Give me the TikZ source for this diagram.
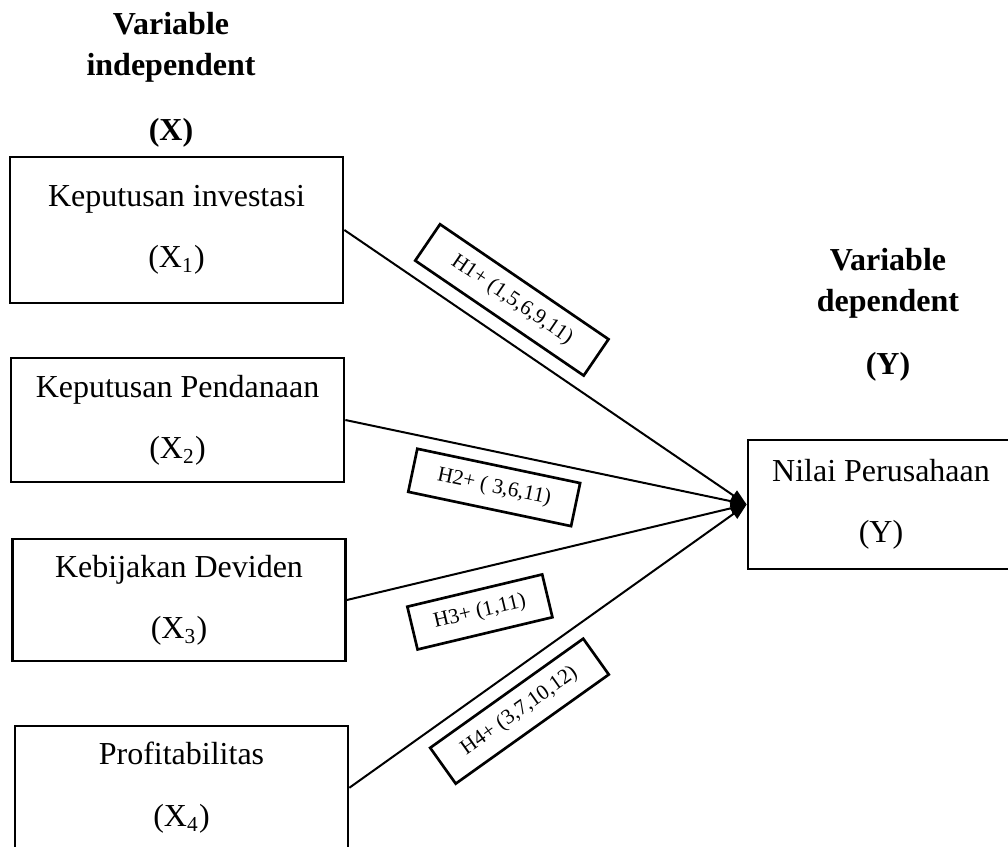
\documentclass[tikz,border=0pt]{standalone}
\usepackage{fontspec}
\setmainfont{Liberation Serif}
\usetikzlibrary{positioning, arrows.meta}

\begin{document}
\begin{tikzpicture}[
    x=0.375pt, y=-0.375pt,
    >={Triangle[length=6pt, width=4.5pt]}, % Filled arrow tips
    % Styles
    var/.style={ % Variable box
        rectangle,
        draw,
        line width=1pt,
        align=center,
        minimum width=124.9pt,
        font=\fontsize{12}{23}\selectfont
    },
    head/.style={ % Column heading
        align=center,
        font=\fontsize{12}{15.2}\selectfont\bfseries
    },
    hyp/.style={ % Hypothesis label on an arrow
        rectangle,
        draw,
        line width=1pt,
        minimum height=16.5pt,
        inner xsep=2pt,
        sloped,
        font=\fontsize{8}{9}\selectfont
    },
    arrow/.style={
        ->,
        line width=0.75pt
    }
]
    \useasboundingbox (0,0) rectangle (1008,847);

    % Headings
    \node[head] (xhead) at (171,80) {Variable\\independent\\[9.5pt](X)};
    \node[head] (yhead) at (888,315) {Variable\\dependent\\[8.5pt](Y)};

    % Independent variables
    \node[var, minimum height=54.75pt] (x1) at (176.5,230)
        {Keputusan investasi\\(X\textsubscript{1})};
    \node[var, minimum height=46.5pt] (x2) at (177.5,420)
        {Keputusan Pendanaan\\(X\textsubscript{2})};
    \node[var, minimum height=45.75pt] (x3) at (179,600)
        {Kebijakan Deviden\\(X\textsubscript{3})};
    \node[var, minimum height=46.3pt] (x4) at (181.5,787.75)
        {Profitabilitas\\(X\textsubscript{4})};

    % Dependent variable
    \node[var, minimum width=99.75pt, minimum height=48.4pt] (y) at (881,504.5)
        {Nilai Perusahaan\\(Y)};

    % Arrows with hypotheses
    \draw[arrow] (x1.east) -- (y.west)
        node[hyp, pos=0.365, above=5pt, minimum width=76.5pt] (h1) {H1+ (1,5,6,9,11)};
    \draw[arrow] (x2.east) -- (y.west)
        node[hyp, pos=0.389, below=4.5pt, minimum width=62.4pt] (h2) {H2+ ( 3,6,11)};
    \draw[arrow] (x3.east) -- (y.west)
        node[hyp, pos=0.308, below=7.2pt, minimum width=52pt] (h3) {H3+ (1,11)};
    \draw[arrow] (x4.east) -- (y.west)
        node[hyp, pos=0.375, below=4.9pt, minimum width=70.5pt] (h4) {H4+ (3,7,10,12)};

\end{tikzpicture}
\end{document}
